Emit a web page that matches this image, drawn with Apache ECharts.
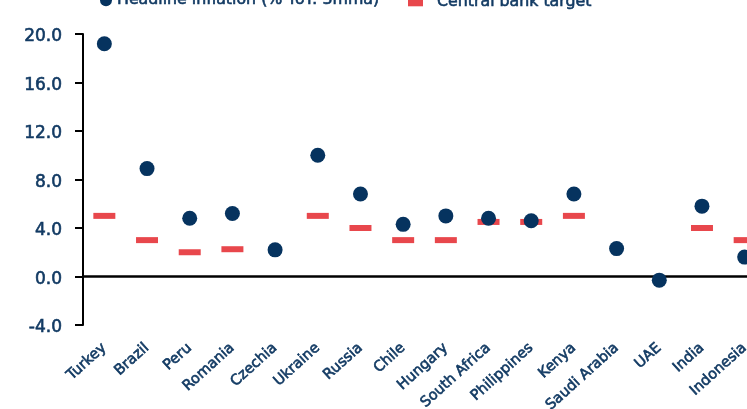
<!DOCTYPE html>
<html>
<head>
<meta charset="utf-8">
<script src="https://cdn.jsdelivr.net/npm/echarts@6/dist/echarts.min.js"></script>
<style>html,body{margin:0;padding:0;background:#fff;overflow:hidden}#c{width:747px;height:409px}</style>
</head>
<body>
<div id="c"></div>
<script>
const categories = ['Turkey','Brazil','Peru','Romania','Czechia','Ukraine','Russia','Chile','Hungary','South Africa','Philippines','Kenya','Saudi Arabia','UAE','India','Indonesia'];
const headline = [19.2, 8.9, 4.8, 5.2, 2.2, 10.0, 6.8, 4.3, 5.0, 4.8, 4.6, 6.8, 2.3, -0.3, 5.8, 1.6];
const target = [5, 3, 2, 2.25, null, 5, 4, 3, 3, 4.5, 4.5, 5, null, null, 4, 3];
const yTicks = [-4, 20, 4];
const seriesNames = ['Headline inflation (% YoY: 3mma)', 'Central bank target'];

const NAVY = '#06335f';
const TEXT = '#123a63';
const RED = '#e8474c';
const FONT = '"DejaVu Sans", sans-serif';
const BOLDEN = {textBorderColor: TEXT, textBorderWidth: 0.6};

const chart = echarts.init(document.getElementById('c'), null, {renderer: 'canvas'});
chart.setOption({
  animation: false,
  backgroundColor: '#fff',
  legend: [
    {
      left: 95, top: -13, itemWidth: 12, itemHeight: 12,
      textStyle: Object.assign({color: TEXT, fontFamily: FONT, fontSize: 15.8}, BOLDEN),
      data: [{name: seriesNames[0], icon: 'circle'}]
    },
    {
      left: 403, top: -11, itemWidth: 15, itemHeight: 8,
      textStyle: Object.assign({color: TEXT, fontFamily: FONT, fontSize: 15.8, padding: [0, 0, 0, 9]}, BOLDEN),
      data: [{name: seriesNames[1], icon: 'rect'}]
    }
  ],
  grid: {left: 83, top: 34, width: 683, height: 291, outerBoundsMode: 'none', containLabel: false},
  xAxis: {
    type: 'category', data: categories, position: 'bottom',
    axisLine: {show: false, onZero: false}, axisTick: {show: false},
    axisLabel: Object.assign({rotate: 42, margin: 21, color: TEXT, fontFamily: FONT, fontSize: 14.5, interval: 0}, BOLDEN)
  },
  yAxis: {
    type: 'value', min: yTicks[0], max: yTicks[1], interval: yTicks[2],
    splitLine: {show: false},
    axisLine: {show: true, lineStyle: {color: '#000', width: 2}},
    axisTick: {show: true, inside: false, length: 8, lineStyle: {color: '#000', width: 2}},
    axisLabel: Object.assign({margin: 21, color: TEXT, fontFamily: FONT, fontSize: 17,
      verticalAlign: 'top', lineHeight: 6,
      formatter: v => v.toFixed(1)}, BOLDEN)
  },
  series: [
    {
      name: seriesNames[1], type: 'scatter', data: target,
      symbol: 'rect', symbolSize: [22, 6],
      itemStyle: {color: RED, opacity: 1}, z: 2,
      markLine: {
        silent: true, symbol: 'none', label: {show: false},
        lineStyle: {color: '#000', width: 2.5, type: 'solid'},
        data: [{yAxis: 0}], z: 1
      }
    },
    {
      name: seriesNames[0], type: 'scatter', data: headline,
      symbol: 'circle', symbolSize: 15,
      itemStyle: {color: NAVY, opacity: 1}, z: 3
    }
  ]
});
</script>
</body>
</html>
